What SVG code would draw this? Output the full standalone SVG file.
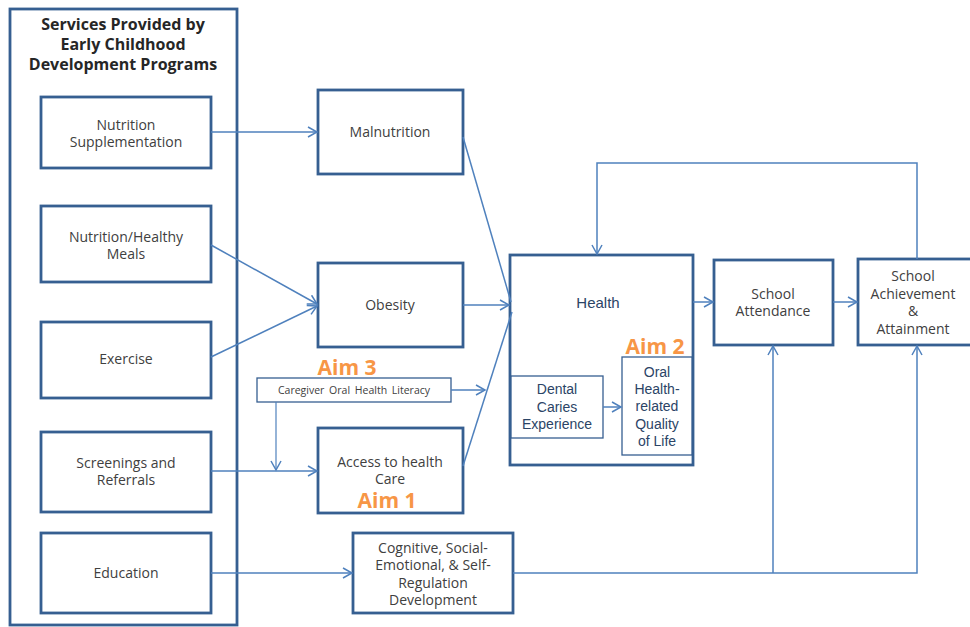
<svg xmlns="http://www.w3.org/2000/svg" width="970" height="627" viewBox="0 0 970 627">
<style>
.box{fill:#fff;stroke:#365f91;stroke-width:2.8}
.thin{fill:#fff;stroke:#365f91;stroke-width:1.3}
.t{font-family:"Open Sans","Liberation Sans",sans-serif;font-size:14px;fill:#404040;text-anchor:middle}
.ttl{font-family:"Open Sans","Liberation Sans",sans-serif;font-size:16px;font-weight:bold;fill:#262626;text-anchor:middle}
.a{font-family:"Liberation Sans",Arial,sans-serif;font-size:14px;fill:#2b4466;text-anchor:middle}
.aim{font-family:"Open Sans","Liberation Sans",sans-serif;font-size:21px;font-weight:bold;fill:#f79646;text-anchor:middle}
.c{fill:none;stroke:#4f81bd;stroke-width:1.5}
</style>
<defs>
<marker id="ar" markerUnits="userSpaceOnUse" markerWidth="12" markerHeight="12" refX="10" refY="6" orient="auto">
<path d="M1,1 L10,6 L1,11" fill="none" stroke="#4f81bd" stroke-width="1.5"/>
</marker>
</defs>
<g id="services">
<rect class="box" x="10" y="9" width="227" height="616"/>
<text class="ttl" x="123" y="30">Services Provided by</text>
<text class="ttl" x="123" y="50">Early Childhood</text>
<text class="ttl" x="123" y="70">Development Programs</text>
</g>
<g id="nutrition-supplementation"><rect class="box" x="41" y="97" width="170" height="71"/><text class="t" x="126" y="130">Nutrition</text><text class="t" x="126" y="147">Supplementation</text></g>
<g id="nutrition-meals"><rect class="box" x="41" y="206" width="170" height="76"/><text class="t" x="126" y="242">Nutrition/Healthy</text><text class="t" x="126" y="259">Meals</text></g>
<g id="exercise"><rect class="box" x="41" y="322" width="170" height="76"/><text class="t" x="126" y="364">Exercise</text></g>
<g id="screenings"><rect class="box" x="41" y="432" width="170" height="80"/><text class="t" x="126" y="468">Screenings and</text><text class="t" x="126" y="485">Referrals</text></g>
<g id="education"><rect class="box" x="41" y="533" width="170" height="80"/><text class="t" x="126" y="578">Education</text></g>
<g id="malnutrition"><rect class="box" x="318" y="90" width="145" height="84"/><text class="t" x="390" y="137">Malnutrition</text></g>
<g id="obesity"><rect class="box" x="318" y="263" width="145" height="84"/><text class="t" x="390" y="310">Obesity</text></g>
<g id="caregiver"><rect class="thin" x="257" y="378" width="194" height="24"/><text class="t" x="354" y="394" style="font-size:10.5px;word-spacing:2px">Caregiver Oral Health Literacy</text><text class="aim" x="347" y="375">Aim 3</text></g>
<g id="access"><rect class="box" x="318" y="428" width="145" height="85"/><text class="t" x="390" y="467">Access to health</text><text class="t" x="390" y="484">Care</text><text class="aim" x="387" y="508">Aim 1</text></g>
<g id="cognitive"><rect class="box" x="353" y="533" width="160" height="80"/><text class="t" x="433" y="553">Cognitive,  Social-</text><text class="t" x="433" y="570">Emotional, &amp; Self-</text><text class="t" x="433" y="588">Regulation</text><text class="t" x="433" y="605">Development</text></g>
<g id="health"><rect class="box" x="510" y="255" width="183" height="210"/><text class="a" x="598" y="308" style="font-size:15px">Health</text></g>
<g id="dental"><rect class="thin" x="511" y="376" width="92" height="62"/><text class="a" x="557" y="394">Dental</text><text class="a" x="557" y="412">Caries</text><text class="a" x="557" y="429">Experience</text></g>
<g id="ohrqol"><rect class="thin" x="622" y="357" width="70" height="98"/><text class="a" x="657" y="377">Oral</text><text class="a" x="657" y="394">Health-</text><text class="a" x="657" y="411">related</text><text class="a" x="657" y="429">Quality</text><text class="a" x="657" y="446">of Life</text><text class="aim" x="655" y="354">Aim 2</text></g>
<g id="attendance"><rect class="box" x="714" y="260" width="119" height="85"/><text class="t" x="773" y="299">School</text><text class="t" x="773" y="316">Attendance</text></g>
<g id="achievement"><rect class="box" x="858" y="259" width="114" height="86"/><text class="t" x="913" y="281">School</text><text class="t" x="913" y="299">Achievement</text><text class="t" x="913" y="316">&amp;</text><text class="t" x="913" y="334">Attainment</text></g>
<g id="connectors">
<line class="c" x1="211" y1="132" x2="317" y2="132" marker-end="url(#ar)"/>
<line class="c" x1="211" y1="245" x2="317" y2="304" marker-end="url(#ar)"/>
<line class="c" x1="211" y1="357" x2="317" y2="306" marker-end="url(#ar)"/>
<line class="c" x1="463" y1="305" x2="509" y2="305" marker-end="url(#ar)"/>
<line class="c" x1="463" y1="137" x2="511" y2="302"/>
<line class="c" x1="463" y1="466" x2="512" y2="312"/>
<line class="c" x1="451" y1="390" x2="485" y2="390" marker-end="url(#ar)"/>
<line class="c" x1="276" y1="402" x2="276" y2="470" marker-end="url(#ar)" style="stroke-width:1.2"/>
<line class="c" x1="211" y1="471" x2="317" y2="471" marker-end="url(#ar)"/>
<line class="c" x1="211" y1="573" x2="352" y2="573" marker-end="url(#ar)"/>
<line class="c" x1="603" y1="407" x2="621" y2="407" marker-end="url(#ar)"/>
<line class="c" x1="693" y1="302" x2="713" y2="302" marker-end="url(#ar)"/>
<line class="c" x1="833" y1="302" x2="857" y2="302" marker-end="url(#ar)"/>
<polyline class="c" points="917,259 917,163 597,163 597,254" marker-end="url(#ar)"/>
<polyline class="c" points="513,573 917,573 917,346" marker-end="url(#ar)"/>
<line class="c" x1="773" y1="573" x2="773" y2="346" marker-end="url(#ar)"/>
</g>
</svg>
